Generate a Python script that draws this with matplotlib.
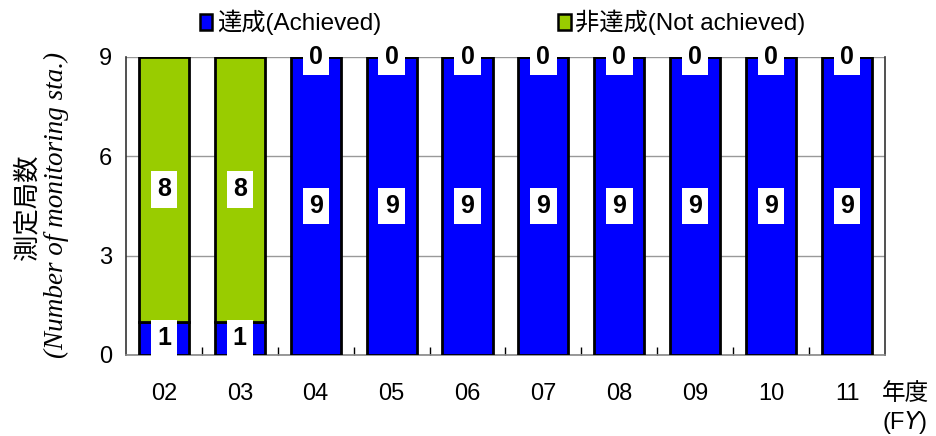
import matplotlib
matplotlib.use("Agg")
import matplotlib.pyplot as plt
import numpy as np
from matplotlib.patches import Patch
from matplotlib import font_manager as fm

names = {f.name for f in fm.fontManager.ttflist}
narrow = "Liberation Sans Narrow" if "Liberation Sans Narrow" in names else "Liberation Sans"
plt.rcParams['font.family'] = [narrow, 'Noto Sans CJK JP', 'DejaVu Sans']

years = ["02", "03", "04", "05", "06", "07", "08", "09", "10", "11"]
achieved = [1, 1, 9, 9, 9, 9, 9, 9, 9, 9]
not_achieved = [8, 8, 0, 0, 0, 0, 0, 0, 0, 0]
yticks = [0, 3, 6, 9]

blue = "#0000FF"
green = "#99CC00"

fig = plt.figure(figsize=(9.36, 4.36), dpi=100)
ax = fig.add_axes([0.1346, 0.1858, 0.8109, 0.6835])

x = np.arange(len(years))
w = 0.66
ax.bar(x, achieved, w, color=blue, edgecolor="black", linewidth=2, zorder=3)
ax.bar(x, not_achieved, w, bottom=achieved, color=green, edgecolor="black", linewidth=2, zorder=3)

box = dict(boxstyle="square,pad=0.25", facecolor="white", edgecolor="none")
for i in range(len(years)):
    a, n = achieved[i], not_achieved[i]
    ax.text(x[i], a / 2, str(a), ha="center", va="center", fontsize=18, fontweight="bold",
            bbox=box, zorder=5)
    if n > 0:
        ax.text(x[i], a + n / 2, str(n), ha="center", va="center", fontsize=18, fontweight="bold",
                bbox=box, zorder=5)
    else:
        ax.text(x[i], a, str(n), ha="center", va="center", fontsize=18, fontweight="bold",
                bbox=box, zorder=5)

ax.set_xlim(-0.5, len(years) - 0.5)
ax.set_ylim(0, 9)
ax.set_yticks(yticks)
ax.set_yticklabels([str(t) for t in yticks], fontsize=17)
ax.set_xticks(x)
ax.set_xticklabels(years, fontsize=17)
ax.tick_params(axis="x", length=0, pad=20)
ax.tick_params(axis="y", length=0, pad=10)
ax.set_xticks(np.arange(0.5, len(years) - 0.5, 1), minor=True)
ax.tick_params(axis="x", which="minor", direction="in", length=6, color="black", width=1)

ax.grid(axis="y", color="#999999", linewidth=1, zorder=0)
for s in ax.spines.values():
    s.set_color("#333333")
    s.set_linewidth(1.2)
ax.spines["bottom"].set_color("#888888")
ax.spines["top"].set_visible(False)

fig.text(0.029, 0.525, "測定局数", rotation=90, ha="center", va="center", fontsize=19,
         family="Noto Sans CJK JP")
fig.text(0.060, 0.53, "(Number of monitoring sta.)", rotation=90, ha="center", va="center",
         fontsize=19.5, style="italic", family="Liberation Serif")

fig.text(0.967, 0.098, "年度", ha="center", va="center", fontsize=17, family="Noto Sans CJK JP")
fig.text(0.967, 0.032, "(F$\\mathit{Y}$)", ha="center", va="center", fontsize=17)

handles = [Patch(facecolor=blue, edgecolor="black", linewidth=1.8, label="達成(Achieved)"),
           Patch(facecolor=green, edgecolor="black", linewidth=1.8, label="非達成(Not achieved)")]
fig.legend(handles=handles, loc="center", bbox_to_anchor=(0.537, 0.948), ncol=2, frameon=False,
           fontsize=17.5, handlelength=0.5, handleheight=0.65, handletextpad=0.2, columnspacing=7.3)

fig.savefig("out.png", dpi=100)
